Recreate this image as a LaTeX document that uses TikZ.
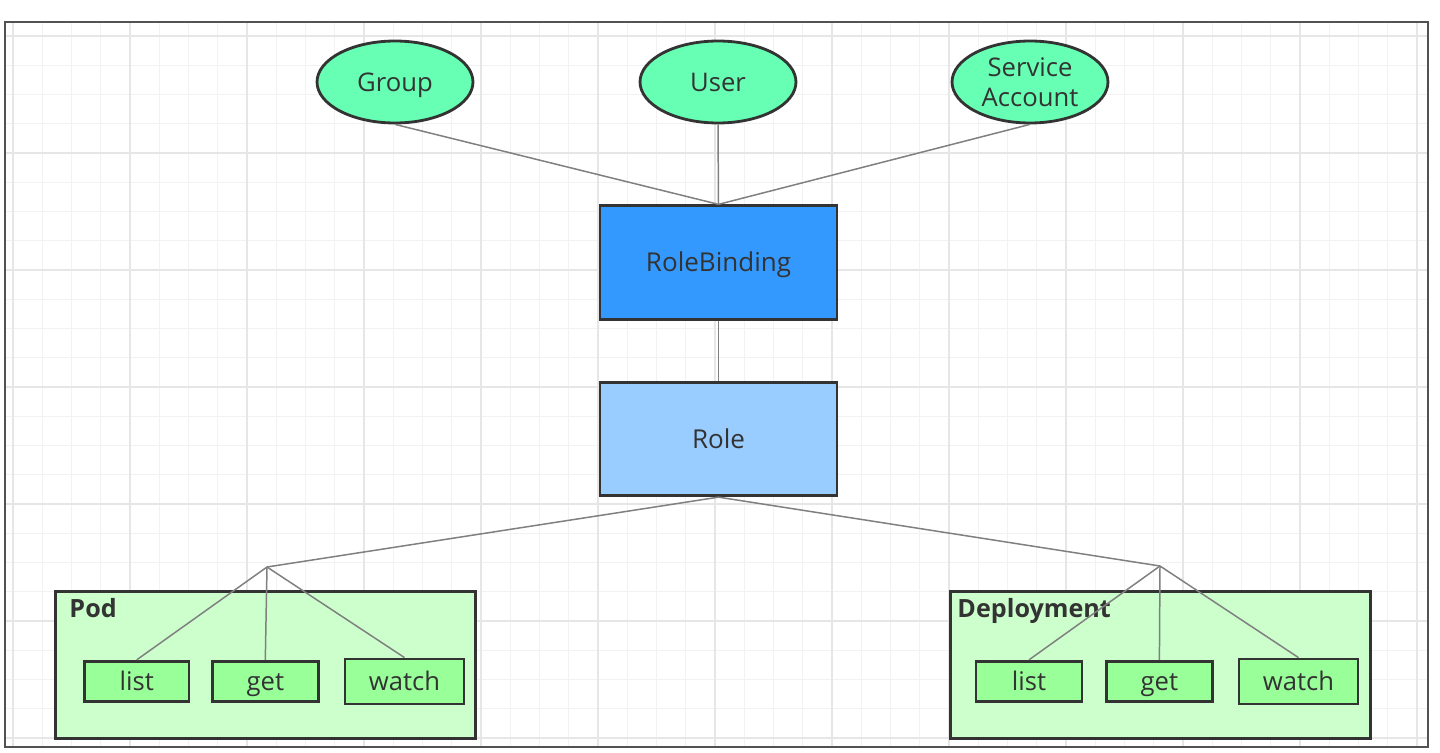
\documentclass[tikz,border=0pt]{standalone}
\usepackage{fontspec}
\setmainfont{Open Sans}
\usetikzlibrary{positioning,shapes.geometric,calc}
\definecolor{rbacInk}{HTML}{333333}
\definecolor{rbacMint}{HTML}{66FFB3}
\definecolor{rbacBlue}{HTML}{3399FF}
\definecolor{rbacSky}{HTML}{99CCFF}
\definecolor{rbacPale}{HTML}{CCFFCC}
\definecolor{rbacLeaf}{HTML}{99FF99}
\definecolor{rbacWire}{HTML}{808080}
\definecolor{rbacGrid}{HTML}{F2F2F2}
\definecolor{rbacGridMajor}{HTML}{E6E6E6}

\begin{document}
\begin{tikzpicture}[x=0.02cm,y=-0.02cm]
  \tikzset{
    subject/.style={ellipse,draw=rbacInk,line width=1.6pt,fill=rbacMint,text=rbacInk,minimum width=3.12cm,minimum height=1.64cm,inner sep=0pt,text height=12.5pt,text depth=2pt,font=\fontsize{14.6}{17}\selectfont,align=center},
    binding/.style={rectangle,draw=rbacInk,line width=1.6pt,text=rbacInk,minimum width=4.74cm,minimum height=2.27cm,text height=12.5pt,text depth=2pt,font=\fontsize{14.8}{17}\selectfont},
    resource/.style={rectangle,draw=rbacInk,line width=1.6pt,fill=rbacPale,minimum width=8.4cm,minimum height=2.93cm},
    verb/.style={rectangle,draw=rbacInk,line width=1.6pt,fill=rbacLeaf,text=rbacInk,minimum height=0.81cm,inner sep=0pt,text height=12.5pt,text depth=2pt,font=\fontsize{14.6}{17}\selectfont},
    kindlabel/.style={anchor=north west,inner sep=0pt,text=rbacInk,font=\fontsize{14.3}{17}\selectfont\bfseries},
    link/.style={draw=rbacWire,line width=0.85pt}
  }
  \useasboundingbox (0,0) rectangle (1440,753);
  \fill[white] (0,0) rectangle (1440,753);
  % grid paper
  \begin{scope}
    \clip (5,22) rectangle (1428,747);
    \foreach \i in {0,...,48} \draw[rbacGrid,line width=0.7pt] (13+29.25*\i,22) -- (13+29.25*\i,747);
    \foreach \j in {0,...,24} \draw[rbacGrid,line width=0.7pt] (5,36+29.25*\j) -- (1428,36+29.25*\j);
    \foreach \i in {0,...,12} \draw[rbacGridMajor,line width=0.7pt] (13+117*\i,22) -- (13+117*\i,747);
    \foreach \j in {0,...,6} \draw[rbacGridMajor,line width=0.7pt] (5,36+117*\j) -- (1428,36+117*\j);
  \end{scope}
  \draw[rbacInk!85,line width=1.2pt] (5,22) rectangle (1428,747);

  % subjects
  \node[subject] (group) at (395,82) {Group};
  \node[subject] (user) at (718,82) {User};
  \node[subject,text height=,text depth=] (sa) at (1030,82) {Service\\Account};

  % binding and role
  \node[binding,fill=rbacBlue] (rb) at (718.5,262.5) {RoleBinding};
  \node[binding,fill=rbacSky] (role) at (718.5,439) {Role};

  % resources
  \node[resource] (pod) at (265.5,665) {};
  \node[kindlabel] (podName) at ($(pod.north west)+(15,8)$) {Pod};
  \node[verb,minimum width=2.09cm] (podList) at (136.7,681.5) {list};
  \node[verb,minimum width=2.12cm] (podGet) at (265.3,681.5) {get};
  \node[verb,minimum width=2.38cm,minimum height=0.9cm] (podWatch) at (404.5,681.5) {watch};

  \node[resource] (dep) at (1160.5,665) {};
  \node[kindlabel] (depName) at ($(dep.north west)+(8,8)$) {Deployment};
  \node[verb,minimum width=2.12cm] (depList) at (1029,681.5) {list};
  \node[verb,minimum width=2.11cm] (depGet) at (1159.4,681.5) {get};
  \node[verb,minimum width=2.38cm,minimum height=0.9cm] (depWatch) at (1298.5,681.5) {watch};

  \coordinate (podHub) at (267,567);
  \coordinate (depHub) at (1160,566);

  % links
  \foreach \n in {group,user,sa} \draw[link] (\n.south) -- (rb.north);
  \draw[link] (rb) -- (role);
  \draw[link] (role.south) -- (podHub);
  \draw[link] (role.south) -- (depHub);
  \foreach \n in {podList,podGet,podWatch} \draw[link] (podHub) -- (\n.north);
  \foreach \n in {depList,depGet,depWatch} \draw[link] (depHub) -- (\n.north);
\end{tikzpicture}
\end{document}
